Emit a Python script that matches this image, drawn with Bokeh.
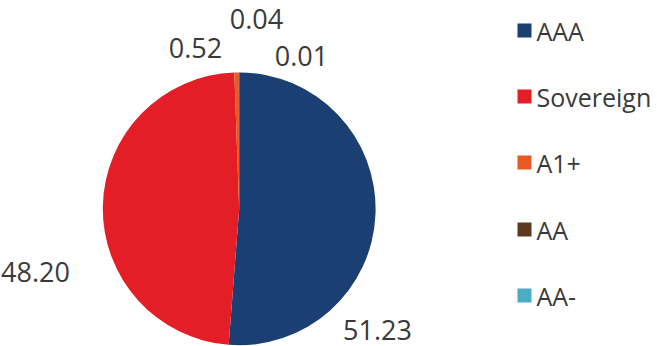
import math
from bokeh.plotting import figure
from bokeh.models import Range1d, ColumnDataSource
from bokeh.core.properties import value
from bokeh.embed import file_html
from bokeh.resources import INLINE

categories = ["AAA", "Sovereign", "A1+", "AA", "AA-"]
values = [51.23, 48.20, 0.52, 0.04, 0.01]
colors = ["#1b3f73", "#e31e26", "#e85a24", "#5b3b1f", "#4bacc6"]
label_texts = ["51.23", "48.20", "0.52", "0.04", "0.01"]

W, H = 657, 346
cx, cy, r = 238.7, H - 208.3, 136.4

total = sum(values)
starts, ends = [], []
cum = 0.0
for v in values:
    starts.append(math.pi / 2 - 2 * math.pi * cum / total)
    cum += v
    ends.append(math.pi / 2 - 2 * math.pi * cum / total)

src = ColumnDataSource(dict(cat=categories, val=values, color=colors,
                            start=starts, end=ends))

p = figure(width=W, height=H, output_backend="svg", toolbar_location=None,
           x_range=Range1d(0, W), y_range=Range1d(0, H), min_border=0)
p.axis.visible = False
p.grid.visible = False
p.outline_line_color = None
p.background_fill_color = "white"

p.wedge(x=cx, y=cy, radius=r, start_angle="start", end_angle="end",
        direction="clock", fill_color="color", line_color=None, source=src)

# data labels (layout positions, Excel-style placement)
lab_x = [377, 35, 195, 256, 301]
lab_y = [H - 329, H - 271, H - 47, H - 18, H - 55]
p.text(x=lab_x, y=lab_y, text=label_texts, text_font=value("Open Sans"),
       text_font_size="27px", text_color="#3a3a3a", text_align="center",
       text_baseline="middle")

# legend
leg_y = [H - 30, H - 96, H - 162, H - 229, H - 295]
p.rect(x=[524] * 5, y=leg_y, width=14, height=14, fill_color=colors,
       line_color=None)
p.text(x=[536] * 5, y=leg_y, text=categories, text_font=value("Open Sans"),
       text_font_size="25px", text_color="#3a3a3a", text_align="left",
       text_baseline="middle")

open("out.html", "w").write(file_html(p, INLINE))
